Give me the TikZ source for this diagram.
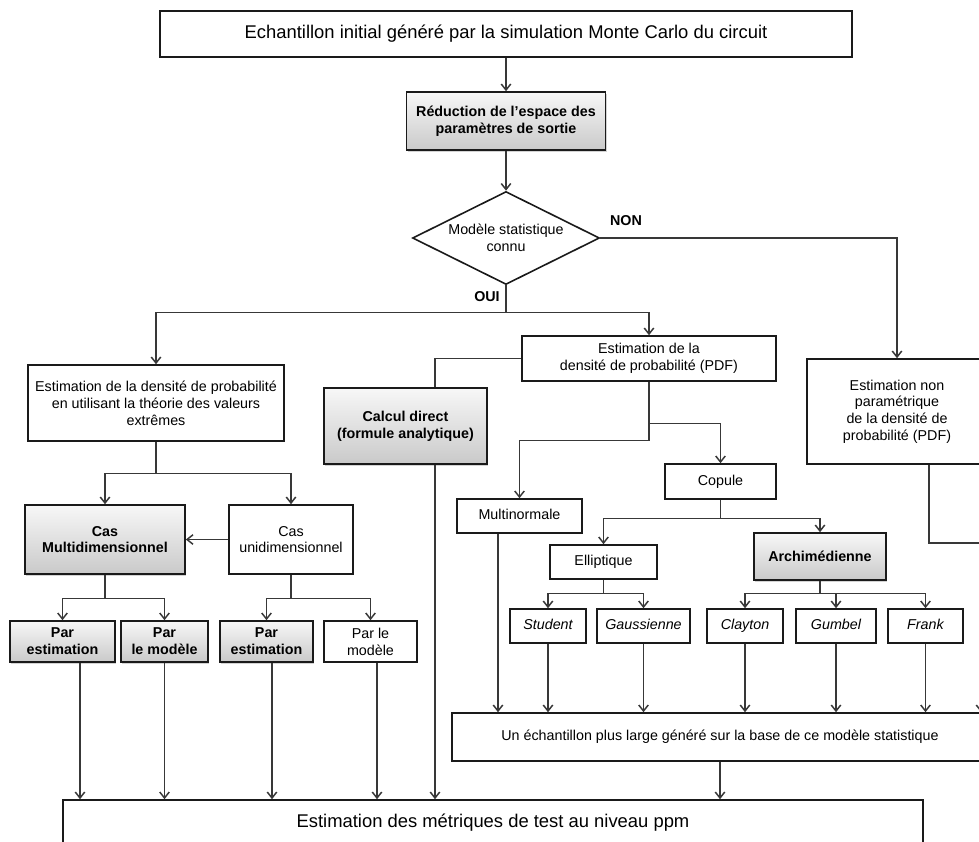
\documentclass[tikz,border=0pt]{standalone}
\usepackage{fontspec}
\setmainfont{Liberation Sans}
\usetikzlibrary{shapes.geometric,arrows.meta,shadows}
\definecolor{linegray}{HTML}{383838}
\definecolor{boxline}{HTML}{1A1A1A}
\tikzset{
	box/.style={draw=boxline, line width=1.6pt, fill=white, align=center, inner sep=0pt, font=\fontsize{14.3}{16.8}\selectfont},
	graybox/.style={box, top color=gray!6, bottom color=gray!42, drop shadow={shadow xshift=1.2pt, shadow yshift=-1.5pt, opacity=0.35}, font=\fontsize{14.3}{16.8}\selectfont\bfseries},
	bigbox/.style={box, font=\fontsize{18.4}{21}\selectfont},
	famille/.style={box, minimum height=34pt, text height=10.5pt, text depth=3pt, font=\fontsize{14.3}{16.8}\selectfont\itshape},
	lab/.style={inner sep=0pt, font=\fontsize{14.3}{16.8}\selectfont\bfseries},
	lnk/.style={draw=linegray, line width=1.25pt},
	arr/.style={lnk, -{Straight Barb[length=6pt,width=9.5pt,line width=1.5pt]}},
}
\begin{document}
\begin{tikzpicture}[x=1pt, y=-1pt]
				\useasboundingbox (0,0) rectangle (979,841);
				\clip (0,0) rectangle (979,841);
				\node[bigbox, minimum width=692pt, minimum height=46pt] (init) at (506,34) {Echantillon initial généré par la simulation Monte Carlo du circuit};
				\node[graybox, minimum width=199pt, minimum height=58pt] (reduc) at (506,121) {Réduction de l’espace des\\paramètres de sortie};
				\node[box, diamond, aspect=2, minimum width=187pt, minimum height=93pt] (modele) at (506,238) {Modèle statistique\\connu};
				\node[lab] (non) at (626,221) {NON};
				\node[lab] (oui) at (487,297) {OUI};
				\node[box, minimum width=256pt, minimum height=76pt] (evt) at (156,403) {Estimation de la densité de probabilité\\en utilisant la théorie des valeurs\\extrêmes};
				\node[graybox, minimum width=163pt, minimum height=76pt] (calc) at (405.5,426) {Calcul direct\\(formule analytique)};
				\node[box, minimum width=254pt, minimum height=45pt] (pdf) at (649,358.5) {Estimation de la\\densité de probabilité (PDF)};
				\node[box, minimum width=180pt, minimum height=105pt] (nonpar) at (897,411.5) {Estimation non\\paramétrique\\de la densité de\\probabilité (PDF)};
				\node[graybox, minimum width=160pt, minimum height=69pt] (multi) at (105,539.5) {Cas\\Multidimensionnel};
				\node[box, minimum width=124pt, minimum height=69pt] (uni) at (291,539.5) {Cas\\unidimensionnel};
				\node[graybox, minimum width=105pt, minimum height=41pt] (est1) at (62.5,641.5) {Par\\estimation};
				\node[graybox, minimum width=87pt, minimum height=41pt] (mod1) at (164.5,641.5) {Par\\le modèle};
				\node[graybox, minimum width=93pt, minimum height=41pt] (est2) at (266.5,641.5) {Par\\estimation};
				\node[box, minimum width=93pt, minimum height=41pt] (mod2) at (370.5,641.5) {Par le\\modèle};
				\node[famille, font=\fontsize{14.3}{16.8}\selectfont, minimum width=111pt, minimum height=35pt] (copule) at (720.5,481.5) {Copule};
				\node[famille, font=\fontsize{14.3}{16.8}\selectfont, minimum width=125pt] (multin) at (519.5,516) {Multinormale};
				\node[famille, font=\fontsize{14.3}{16.8}\selectfont, minimum width=107pt] (ellip) at (603.5,562) {Elliptique};
				\node[graybox, minimum width=132pt, minimum height=47pt] (archi) at (820,556.5) {Archimédienne};
				\node[famille, minimum width=76pt] (student) at (548,626) {Student};
				\node[famille, minimum width=93pt] (gauss) at (643.5,626) {Gaussienne};
				\node[famille, minimum width=76pt] (clayton) at (745,626) {Clayton};
				\node[famille, minimum width=80pt] (gumbel) at (836,626) {Gumbel};
				\node[famille, minimum width=75pt] (frank) at (925.5,626) {Frank};
				\node[box, minimum width=536pt, minimum height=48pt] (large) at (720,737) {Un échantillon plus large généré sur la base de ce modèle statistique};
				\node[bigbox, minimum width=860pt, minimum height=46pt] (final) at (493,823) {Estimation des métriques de test au niveau ppm};
				\draw[arr] (init.south) -- (reduc.north);
				\draw[arr] (reduc.south) -- (modele.north);
				\coordinate (ouiA) at ([yshift=-27pt]modele.south);
				\draw[lnk] (modele.south) -- (ouiA);
				\draw[arr] (ouiA) -| (evt.north);
				\draw[arr] (ouiA) -| (pdf.north);
				\draw[arr] (modele.east) -| (nonpar.north);
				\coordinate (calcA) at ([xshift=29.5pt]calc.north);
				\coordinate (calcB) at ([xshift=29.5pt]calc.south);
				\draw[lnk] (pdf.west) -| (calcA);
				\draw[arr] (calcB) -- (calcB |- final.north);
				\coordinate (pdfA) at ([yshift=-42pt]pdf.south);
				\coordinate (pdfB) at ([yshift=-59pt]pdf.south);
				\draw[lnk] (pdf.south) -- (pdfB);
				\draw[arr] (pdfA) -| (copule.north);
				\draw[arr] (pdfB) -| (multin.north);
				\coordinate (copA) at ([yshift=-19pt]copule.south);
				\draw[lnk] (copule.south) -- (copA);
				\draw[arr] (copA) -| (ellip.north);
				\draw[arr] (copA) -| (archi.north);
				\coordinate (ellA) at ([yshift=-14pt]ellip.south);
				\draw[lnk] (ellip.south) -- (ellA);
				\foreach \n in {student,gauss}
					\draw[arr] (ellA) -| (\n.north);
				\coordinate (archA) at ([yshift=-13pt]archi.south);
				\draw[lnk] (archi.south) -- (archA);
				\foreach \n in {clayton,gumbel,frank}
					\draw[arr] (archA) -| (\n.north);
				\foreach \n in {student,gauss,clayton,gumbel,frank}
					\draw[arr] (\n.south) -- (\n.south |- large.north);
				\coordinate (multinA) at ([xshift=-21.5pt]multin.south);
				\draw[arr] (multinA) -- (multinA |- large.north);
				\coordinate (npA) at ([xshift=32pt]nonpar.south);
				\coordinate (npB) at (981,543);
				\draw[arr] (npA) |- (npB) -- (npB |- large.north);
				\draw[arr] (large.south) -- (large.south |- final.north);
				\coordinate (evtA) at ([yshift=-32pt]evt.south);
				\draw[lnk] (evt.south) -- (evtA);
				\draw[arr] (evtA) -| (multi.north);
				\draw[arr] (evtA) -| (uni.north);
				\draw[arr] (uni.west) -- (multi.east);
				\coordinate (multiA) at ([yshift=-24pt]multi.south);
				\draw[lnk] (multi.south) -- (multiA);
				\draw[arr] (multiA) -| (est1.north);
				\draw[arr] (multiA) -| (mod1.north);
				\coordinate (uniA) at ([yshift=-24pt]uni.south);
				\draw[lnk] (uni.south) -- (uniA);
				\draw[arr] (uniA) -| (est2.north);
				\draw[arr] (uniA) -| (mod2.north);
				\foreach \n/\d in {est1/17.5,mod1/0,est2/5.5,mod2/6.5} {
					\coordinate (drop) at ([xshift=\d pt]\n.south);
					\draw[arr] (drop) -- (drop |- final.north);
				}
			\end{tikzpicture}
\end{document}
